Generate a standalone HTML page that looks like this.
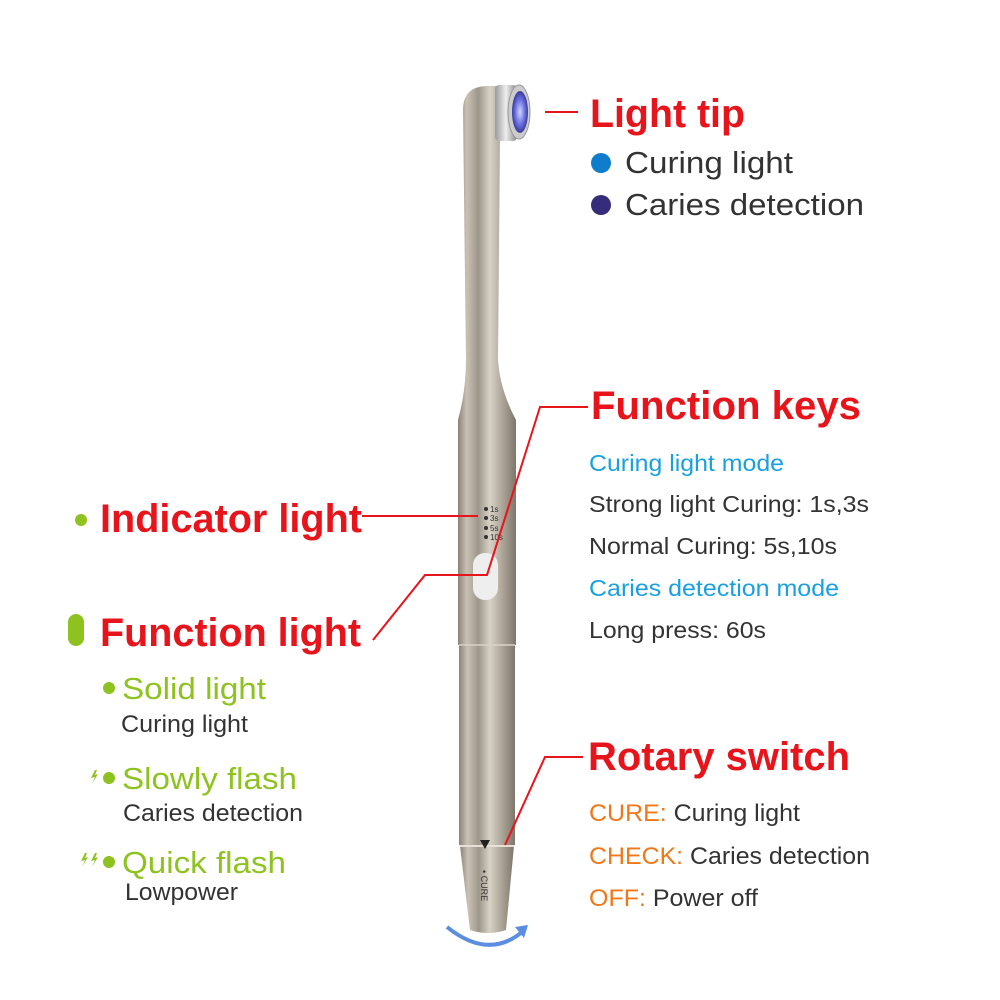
<!DOCTYPE html>
<html><head><meta charset="utf-8"><style>
body{margin:0;background:#fff}
svg{display:block}
text{font-family:"Liberation Sans",Arial,sans-serif}
</style></head><body>
<svg width="1000" height="1000" viewBox="0 0 1000 1000" xmlns="http://www.w3.org/2000/svg">
<defs>
<linearGradient id="m" x1="0" x2="1" y1="0" y2="0">
<stop offset="0" stop-color="#8a8275"/>
<stop offset="0.15" stop-color="#c9c2b4"/>
<stop offset="0.35" stop-color="#9d968a"/>
<stop offset="0.55" stop-color="#d8d2c6"/>
<stop offset="0.8" stop-color="#a59e91"/>
<stop offset="1" stop-color="#7d766a"/>
</linearGradient>
<linearGradient id="c" x1="0" x2="1">
<stop offset="0" stop-color="#999"/><stop offset="0.5" stop-color="#eee"/><stop offset="1" stop-color="#888"/>
</linearGradient>
<radialGradient id="l" cx="0.5" cy="0.5" r="0.5">
<stop offset="0" stop-color="#d0d8ff"/><stop offset="0.6" stop-color="#6a70e0"/><stop offset="1" stop-color="#3a3a9a"/>
</radialGradient>
</defs>
<path d="M463 110 Q463 86 488 86 L505 86 L505 140 L500 140 L498 360 Q500 390 516 420 L516 445 L458 445 L458 420 Q466 390 466 360 Z" fill="url(#m)"/>
<rect x="458" y="440" width="58" height="205" fill="url(#m)"/>
<rect x="459" y="645" width="56" height="200" fill="url(#m)"/>
<line x1="459" y1="645" x2="515" y2="645" stroke="#d8d2c8" stroke-width="1.5"/>
<path d="M460 846 L514 846 L506 930 Q488 936 470 930 Z" fill="url(#m)"/>
<line x1="460" y1="846" x2="514" y2="846" stroke="#e6e0d6" stroke-width="2"/>
<rect x="495" y="85" width="22" height="56" rx="4" fill="url(#c)"/>
<ellipse cx="519" cy="112" rx="11" ry="27" fill="#ccc" stroke="#999"/>
<ellipse cx="520" cy="112" rx="8" ry="21" fill="url(#l)"/>
<g fill="#333" font-size="8">
<circle cx="486" cy="509" r="2"/><text x="490" y="512">1s</text>
<circle cx="486" cy="518" r="2"/><text x="490" y="521">3s</text>
<circle cx="486" cy="528" r="2"/><text x="490" y="531">5s</text>
<circle cx="486" cy="537" r="2"/><text x="490" y="540">10s</text>
</g>
<rect x="473" y="553" width="25" height="47" rx="12" fill="#eeeeee"/>
<path d="M480 840 L490 840 L485 849 Z" fill="#222"/>
<text x="0" y="0" font-size="9" fill="#333" transform="translate(481,870) rotate(90)">• CURE</text>
<path d="M447 927 Q488 960 522 932" fill="none" stroke="#5b8de0" stroke-width="4"/>
<path d="M515 927 L528 925 L524 938 Z" fill="#5b8de0"/>
<g stroke="#e8141c" stroke-width="2" fill="none">
<line x1="545" y1="112" x2="578" y2="112"/>
<line x1="362" y1="516" x2="478" y2="516"/>
<polyline points="373,640 425,575 487,575 540,407 588,407"/>
<polyline points="505,845 545,757 583,757"/>
</g>
<g font-size="40" font-weight="bold" fill="#e8141c">
<text x="590" y="127" textLength="155" lengthAdjust="spacingAndGlyphs">Light tip</text>
<text x="591" y="419" textLength="270" lengthAdjust="spacingAndGlyphs">Function keys</text>
<text x="588" y="770" textLength="262" lengthAdjust="spacingAndGlyphs">Rotary switch</text>
<text x="100" y="532" textLength="262" lengthAdjust="spacingAndGlyphs">Indicator light</text>
<text x="100" y="646" textLength="261" lengthAdjust="spacingAndGlyphs">Function light</text>
</g>
<circle cx="601" cy="163" r="10" fill="#0f7ccc"/>
<text x="625" y="173" font-size="31" fill="#333" textLength="168" lengthAdjust="spacingAndGlyphs">Curing light</text>
<circle cx="601" cy="205" r="10" fill="#352c7c"/>
<text x="625" y="215" font-size="31" fill="#333" textLength="239" lengthAdjust="spacingAndGlyphs">Caries detection</text>
<g font-size="23" fill="#333">
<text x="589" y="471" fill="#1aa0e0" textLength="195" lengthAdjust="spacingAndGlyphs">Curing light mode</text>
<text x="589" y="512" textLength="280" lengthAdjust="spacingAndGlyphs">Strong light Curing: 1s,3s</text>
<text x="589" y="554" textLength="248" lengthAdjust="spacingAndGlyphs">Normal Curing: 5s,10s</text>
<text x="589" y="596" fill="#1aa0e0" textLength="250" lengthAdjust="spacingAndGlyphs">Caries detection mode</text>
<text x="589" y="638" textLength="177" lengthAdjust="spacingAndGlyphs">Long press: 60s</text>
</g>
<g font-size="24" fill="#333">
<text x="589" y="821" textLength="211" lengthAdjust="spacingAndGlyphs"><tspan fill="#f07818">CURE:</tspan> Curing light</text>
<text x="589" y="864" textLength="281" lengthAdjust="spacingAndGlyphs"><tspan fill="#f07818">CHECK:</tspan> Caries detection</text>
<text x="589" y="906" textLength="169" lengthAdjust="spacingAndGlyphs"><tspan fill="#f07818">OFF:</tspan> Power off</text>
</g>
<circle cx="81" cy="520" r="6" fill="#8dc21f"/>
<rect x="68" y="614" width="16" height="32" rx="8" fill="#8dc21f"/>
<g fill="#8dc21f" font-size="31">
<circle cx="109" cy="688" r="6"/><text x="122" y="699" textLength="144" lengthAdjust="spacingAndGlyphs">Solid light</text>
<circle cx="109" cy="778" r="6"/><text x="122" y="789" textLength="175" lengthAdjust="spacingAndGlyphs">Slowly flash</text>
<path d="M95 770 L91 778 L95 777 L92 784 L98 774 L95 775 L97 770Z"/>
<circle cx="109" cy="862" r="6"/><text x="122" y="873" textLength="164" lengthAdjust="spacingAndGlyphs">Quick flash</text>
<path d="M85 853 L81 861 L85 860 L82 867 L88 857 L85 858 L87 853Z"/>
<path d="M95 853 L91 861 L95 860 L92 867 L98 857 L95 858 L97 853Z"/>
</g>
<g fill="#333" font-size="24">
<text x="121" y="732" textLength="127" lengthAdjust="spacingAndGlyphs">Curing light</text>
<text x="123" y="821" textLength="180" lengthAdjust="spacingAndGlyphs">Caries detection</text>
<text x="125" y="900" textLength="113" lengthAdjust="spacingAndGlyphs">Lowpower</text>
</g>
</svg>
</body></html>
